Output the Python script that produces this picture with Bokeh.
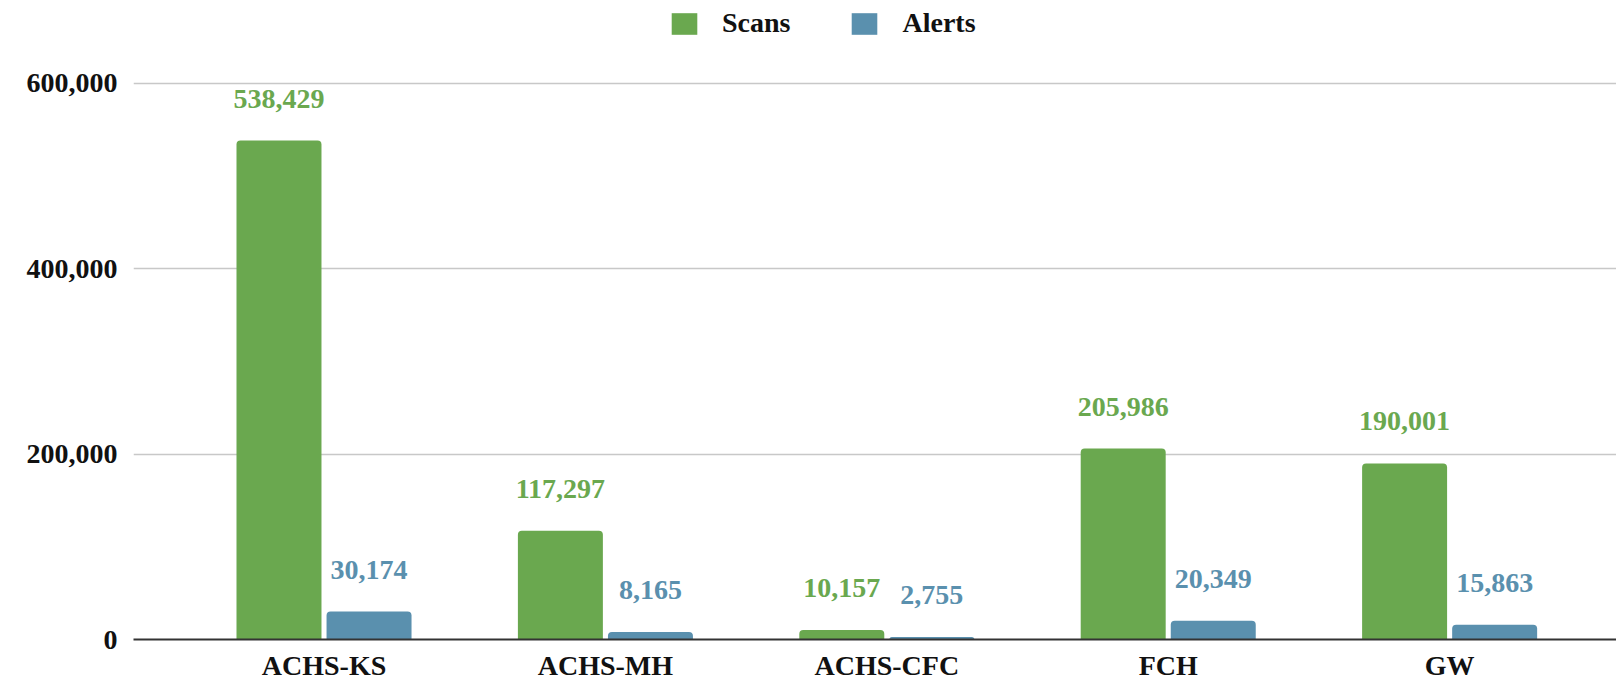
from bokeh.plotting import figure
from bokeh.models import (ColumnDataSource, Range1d, FixedTicker, NumeralTickFormatter,
                          LabelSet, Legend, LegendItem)
from bokeh.transform import dodge
from bokeh.embed import file_html
from bokeh.resources import INLINE

categories = ["ACHS-KS", "ACHS-MH", "ACHS-CFC", "FCH", "GW"]
scans = [538429, 117297, 10157, 205986, 190001]
alerts = [30174, 8165, 2755, 20349, 15863]
y_ticks = [0, 200000, 400000, 600000]

GREEN = "#6aa84f"
BLUE = "#5a90ae"
FONT = "Liberation Serif"
FS = "28px"

idx = list(range(len(categories)))
src = ColumnDataSource(dict(
    x=idx,
    cat=categories,
    scans=scans,
    alerts=alerts,
    scans_lbl=[f"{v:,}" for v in scans],
    alerts_lbl=[f"{v:,}" for v in alerts],
))

p = figure(width=1616, height=683, output_backend="svg", toolbar_location=None,
           x_range=Range1d(-0.677, 4.593), y_range=Range1d(0, 689568),
           min_border_left=133, min_border_right=0, min_border_top=0, min_border_bottom=44)
p.outline_line_color = None
p.background_fill_color = "white"

off = 0.16
bw = 0.302
r1 = p.vbar(x=dodge("x", -off), top="scans", width=bw, source=src,
            fill_color=GREEN, line_color=None, border_radius=(4, 4, 0, 0))
r2 = p.vbar(x=dodge("x", off), top="alerts", width=bw, source=src,
            fill_color=BLUE, line_color=None, border_radius=(4, 4, 0, 0))

for col, lbl, d, color in [("scans", "scans_lbl", -off, GREEN), ("alerts", "alerts_lbl", off, BLUE)]:
    ls = LabelSet(x=dodge("x", d), y=col, text=lbl, source=src, y_offset=33,
                  text_align="center", text_baseline="alphabetic",
                  text_color=color, text_font=FONT, text_font_style="bold",
                  text_font_size=FS)
    p.add_layout(ls)

# axes
p.xaxis.ticker = FixedTicker(ticks=idx)
p.xaxis.major_label_overrides = {i: c for i, c in zip(idx, categories)}
p.xaxis.major_tick_line_color = None
p.xaxis.major_tick_out = 0
p.xaxis.major_tick_in = 0
p.xaxis.minor_tick_line_color = None
p.xaxis.minor_tick_out = 0
p.xaxis.axis_line_color = "#333333"
p.xaxis.axis_line_width = 2
p.xaxis.major_label_standoff = 10
p.xaxis.major_label_text_font = FONT
p.xaxis.major_label_text_font_style = "bold"
p.xaxis.major_label_text_font_size = FS
p.xaxis.major_label_text_color = "#111111"

p.yaxis.ticker = FixedTicker(ticks=y_ticks)
p.yaxis.formatter = NumeralTickFormatter(format="0,0")
p.yaxis.axis_line_color = None
p.yaxis.major_tick_line_color = None
p.yaxis.major_tick_out = 0
p.yaxis.major_tick_in = 0
p.yaxis.minor_tick_line_color = None
p.yaxis.minor_tick_out = 0
p.yaxis.major_label_standoff = 16
p.yaxis.major_label_text_font = FONT
p.yaxis.major_label_text_font_style = "bold"
p.yaxis.major_label_text_font_size = FS
p.yaxis.major_label_text_color = "#111111"

p.xgrid.grid_line_color = None
p.ygrid.ticker = FixedTicker(ticks=y_ticks)
p.ygrid.grid_line_color = "#c8c8c8"
p.ygrid.grid_line_width = 1.5

legend = Legend(items=[LegendItem(label="Scans", renderers=[r1]),
                       LegendItem(label="Alerts", renderers=[r2])],
                orientation="horizontal", location=(535, 600),
                glyph_width=32, glyph_height=27, label_standoff=22, spacing=58,
                padding=0, margin=0, border_line_color=None,
                background_fill_alpha=0,
                label_text_font=FONT, label_text_font_style="bold",
                label_text_font_size=FS, label_text_color="#111111")
p.add_layout(legend)

open("out.html", "w").write(file_html(p, INLINE))
